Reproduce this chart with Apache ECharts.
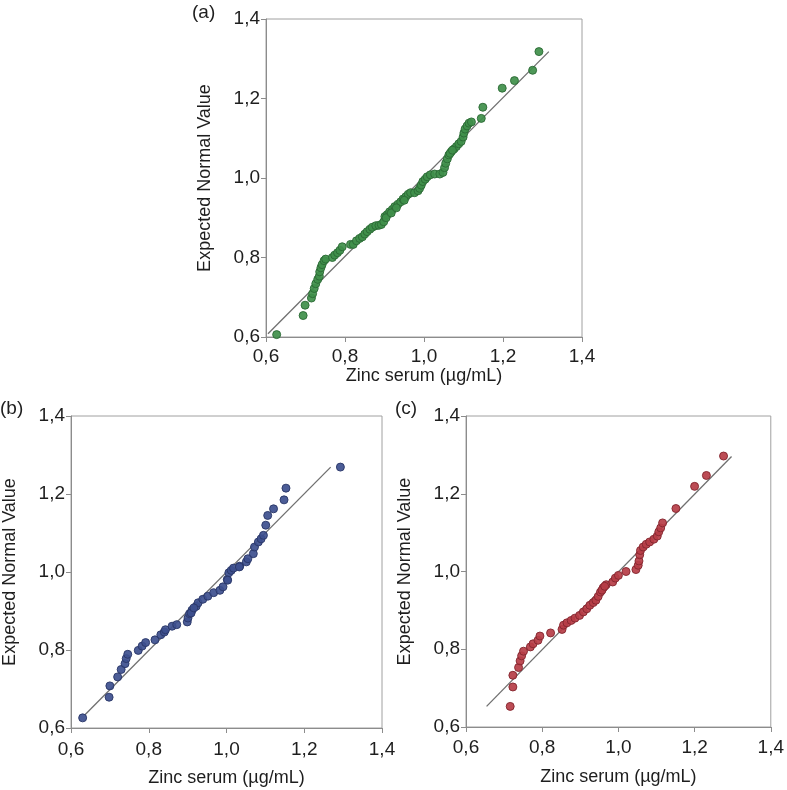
<!DOCTYPE html>
<html>
<head>
<meta charset="utf-8">
<script src="https://cdn.jsdelivr.net/npm/echarts@6/dist/echarts.min.js"></script>
<style>
html,body{margin:0;padding:0;background:#fff;}
#chart{width:787px;height:790px;}
</style>
</head>
<body>
<div id="chart"></div>
<script>
// ---- data ----
const tickLabels = ['0,6', '0,8', '1,0', '1,2', '1,4'];
const xTitle = 'Zinc serum (µg/mL)';
const yTitle = 'Expected Normal Value';
const panelLabels = ['(a)', '(b)', '(c)'];

const aZinc = [0.627,0.694,0.699,0.715,0.718,0.722,0.726,0.731,0.735,0.736,0.739,0.742,0.747,0.751,0.768,0.774,0.781,0.787,0.793,0.814,0.821,0.829,0.837,0.844,0.850,0.856,0.863,0.869,0.878,0.886,0.892,0.898,0.901,0.907,0.913,0.920,0.926,0.934,0.941,0.947,0.954,0.960,0.966,0.976,0.985,0.989,0.993,0.997,1.003,1.008,1.016,1.027,1.040,1.048,1.052,1.055,1.059,1.063,1.069,1.076,1.082,1.088,1.094,1.099,1.101,1.104,1.109,1.114,1.120,1.145,1.149,1.198,1.229,1.275,1.291,0.904,0.917,0.930,0.950,1.066,1.072];
const aExpected = [0.606,0.654,0.680,0.698,0.709,0.722,0.734,0.745,0.753,0.764,0.774,0.782,0.792,0.796,0.800,0.806,0.812,0.818,0.827,0.833,0.833,0.842,0.848,0.852,0.859,0.865,0.871,0.876,0.880,0.881,0.883,0.890,0.903,0.908,0.915,0.921,0.928,0.934,0.940,0.947,0.953,0.959,0.963,0.963,0.968,0.974,0.982,0.991,0.997,1.003,1.008,1.010,1.010,1.014,1.026,1.037,1.048,1.058,1.066,1.073,1.079,1.086,1.092,1.103,1.113,1.123,1.131,1.138,1.141,1.150,1.178,1.226,1.245,1.271,1.318,0.900,0.912,0.925,0.944,1.062,1.070];

const bZinc = [0.630,0.698,0.700,0.720,0.729,0.739,0.742,0.746,0.773,0.783,0.792,0.816,0.831,0.840,0.843,0.860,0.872,0.899,0.901,0.905,0.911,0.922,0.927,0.939,0.952,0.967,0.983,0.991,1.002,1.006,1.012,1.018,1.034,1.051,1.055,1.069,1.072,1.082,1.089,1.095,1.101,1.106,1.121,1.148,1.153,1.293,0.909,0.916,1.003,1.033];
const bExpected = [0.626,0.679,0.708,0.731,0.750,0.765,0.778,0.789,0.799,0.810,0.819,0.826,0.839,0.846,0.852,0.861,0.865,0.872,0.882,0.893,0.902,0.912,0.921,0.930,0.938,0.947,0.953,0.962,0.981,0.998,1.004,1.010,1.015,1.026,1.034,1.047,1.064,1.077,1.085,1.094,1.120,1.145,1.162,1.185,1.215,1.269,0.895,0.908,0.979,1.013];

const cZinc = [0.716,0.723,0.723,0.738,0.742,0.746,0.751,0.769,0.776,0.789,0.794,0.822,0.852,0.856,0.865,0.876,0.886,0.898,0.908,0.917,0.925,0.934,0.941,0.947,0.953,0.960,0.968,0.985,0.992,1.000,1.020,1.046,1.052,1.054,1.056,1.058,1.065,1.073,1.082,1.093,1.102,1.106,1.111,1.116,1.151,1.200,1.231,1.276,0.957,0.964];
const cExpected = [0.653,0.703,0.733,0.753,0.770,0.783,0.795,0.806,0.814,0.823,0.834,0.842,0.851,0.862,0.868,0.874,0.880,0.887,0.896,0.904,0.913,0.920,0.926,0.936,0.947,0.958,0.966,0.973,0.983,0.990,1.000,1.005,1.016,1.027,1.043,1.054,1.063,1.070,1.076,1.083,1.091,1.102,1.112,1.125,1.162,1.219,1.247,1.297,0.952,0.962];

const aLineX = [0.605, 1.316];
const aLineY = [0.608, 1.318];
const bLineX = [0.636, 1.268];
const bLineY = [0.634, 1.269];
const cLineX = [0.654, 1.297];
const cLineY = [0.653, 1.296];

// ---- styles ----
const FONT = '"Liberation Sans", Arial, sans-serif';
const TXT = '#1e1e1e';
const AX = '#8c8c8c';
const colors = [
  {fill: '#3f8f4a', border: '#2b6a35'},
  {fill: '#3d4f8e', border: '#2a3768'},
  {fill: '#b63d47', border: '#84262f'}
];
const grids = [
  {left: 266, top: 19, width: 316, height: 318, xGap: 29, xMargin: 10},
  {left: 69, top: 416, width: 313, height: 312, xGap: 41, xMargin: 12},
  {left: 466, top: 416, width: 310, height: 311, xGap: 41, xMargin: 11}
];
const labelPos = [{left: 192, top: 3}, {left: 0, top: 399}, {left: 395, top: 399}];

const fmt = v => tickLabels[Math.round((v - 0.6) / 0.2)] ?? '';

const pairs = (xs, ys) => xs.map((x, i) => [x, ys[i]]);
const scatterData = [pairs(aZinc, aExpected), pairs(bZinc, bExpected), pairs(cZinc, cExpected)];
const lineData = [pairs(aLineX, aLineY), pairs(bLineX, bLineY), pairs(cLineX, cLineY)];

const option = {
  animation: false,
  backgroundColor: '#fff',
  textStyle: {fontFamily: FONT},
  title: panelLabels.map((t, i) => ({
    text: t, left: labelPos[i].left, top: labelPos[i].top, padding: 0,
    textStyle: {fontFamily: FONT, fontSize: 19, fontWeight: 'normal', color: TXT}
  })),
  grid: grids.map(g => ({
    left: g.left, top: g.top, width: g.width, height: g.height,
    show: true, borderColor: '#a0a0a0', borderWidth: 1, backgroundColor: 'transparent'
  })),
  xAxis: grids.map((g, i) => ({
    type: 'value', gridIndex: i, min: 0.6, max: 1.4, interval: 0.2,
    name: xTitle, nameLocation: 'middle', nameGap: g.xGap,
    nameTextStyle: {fontFamily: FONT, fontSize: 18, color: TXT},
    axisLine: {show: true, onZero: false, lineStyle: {color: AX, width: 1}},
    axisTick: {show: true, inside: false, length: 5, lineStyle: {color: AX}},
    axisLabel: {fontFamily: FONT, fontSize: 19, color: TXT, margin: g.xMargin, formatter: fmt},
    splitLine: {show: false}
  })),
  yAxis: grids.map((g, i) => ({
    type: 'value', gridIndex: i, min: 0.6, max: 1.4, interval: 0.2,
    name: yTitle, nameLocation: 'middle', nameGap: 52, nameRotate: 90,
    nameTextStyle: {fontFamily: FONT, fontSize: 18, color: TXT},
    axisLine: {show: true, onZero: false, lineStyle: {color: AX, width: 1}},
    axisTick: {show: true, inside: false, length: 5, lineStyle: {color: AX}},
    axisLabel: {fontFamily: FONT, fontSize: 19, color: TXT, margin: 6, formatter: fmt},
    splitLine: {show: false}
  })),
  series: [
    ...lineData.map((d, i) => ({
      type: 'line', xAxisIndex: i, yAxisIndex: i, data: d, symbol: 'none',
      lineStyle: {color: '#6f6f6f', width: 1.3}, z: 2
    })),
    ...scatterData.map((d, i) => ({
      type: 'scatter', xAxisIndex: i, yAxisIndex: i, data: d, symbolSize: 8,
      itemStyle: {color: colors[i].fill, borderColor: colors[i].border, borderWidth: 1, opacity: 0.92},
      z: 3
    }))
  ]
};

const chart = echarts.init(document.getElementById('chart'), null, {renderer: 'canvas'});
chart.setOption(option);
</script>
</body>
</html>
